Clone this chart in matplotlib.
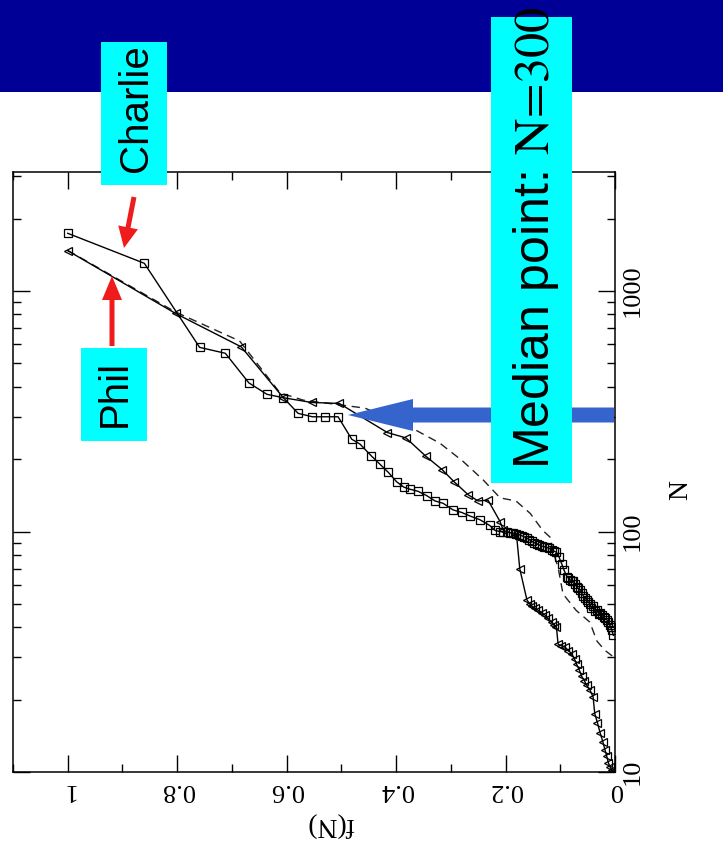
import matplotlib
matplotlib.use("Agg")
import matplotlib.pyplot as plt
from matplotlib.patches import Rectangle, FancyArrow
from matplotlib.ticker import LogLocator, NullFormatter, MultipleLocator

plt.rcParams['mathtext.fontset'] = 'stix'

charlie_f = [1.0, 0.860, 0.759, 0.712, 0.669, 0.636, 0.606, 0.579, 0.553, 0.530, 0.506,
             0.481, 0.466, 0.445, 0.430, 0.414, 0.399, 0.386, 0.375, 0.360, 0.344, 0.329,
             0.314, 0.296, 0.280, 0.265, 0.247, 0.229, 0.219, 0.210, 0.204, 0.198, 0.192,
             0.186, 0.180, 0.175, 0.170, 0.166, 0.161, 0.157, 0.152, 0.148, 0.143, 0.139,
             0.134, 0.130, 0.125, 0.120, 0.116, 0.112, 0.107, 0.102, 0.097, 0.093, 0.088,
             0.085, 0.082, 0.079, 0.076, 0.073, 0.070, 0.067, 0.064, 0.061, 0.058, 0.055,
             0.052, 0.049, 0.046, 0.043, 0.040, 0.037, 0.033, 0.030, 0.027, 0.024, 0.021,
             0.018, 0.015, 0.012, 0.010, 0.008, 0.006, 0.003]
charlie_N = [1738, 1304, 583, 551, 415, 372, 360, 310, 300, 300, 300,
             242, 231, 206, 191, 176, 161, 153, 150, 147, 141, 134,
             131, 123, 120, 116, 112, 106, 101, 100, 99.7, 99.5, 99,
             98.5, 98, 97, 96, 95, 94, 92.5, 91, 90, 89, 88,
             87, 86.5, 86, 85, 84, 83, 82, 78, 73, 69, 65,
             64, 63, 62.5, 62, 60.5, 59, 58, 57, 55.5, 54, 53,
             52, 51, 50, 48, 49, 46.5, 47, 45.5, 46, 45, 44,
             43.5, 43, 42, 41, 40, 39, 37]

phil_f = [1.0, 0.803, 0.683, 0.606, 0.554, 0.504, 0.416, 0.382, 0.346, 0.316, 0.294,
          0.268, 0.250, 0.232, 0.210, 0.204, 0.180, 0.174, 0.161, 0.156, 0.152, 0.146,
          0.140, 0.134, 0.128, 0.122, 0.116, 0.111, 0.107, 0.104, 0.098, 0.091, 0.085,
          0.079, 0.074, 0.070, 0.065, 0.061, 0.056, 0.052, 0.046, 0.040, 0.037, 0.032,
          0.027, 0.022, 0.018, 0.015, 0.012, 0.009, 0.006, 0.003]
phil_N = [1472, 807, 586, 360, 344, 341, 258, 245, 206, 181, 161,
          142, 134, 135, 110, 101, 97, 70, 52, 50, 49, 48,
          47, 46, 45, 43.5, 42, 41, 40, 34, 33.5, 33, 32,
          31, 29.5, 28, 26.5, 25, 24, 23, 22, 20.5, 17.5, 16,
          14.5, 13.3, 12.3, 11.6, 10.9, 10.5, 10.2, 10.05]

model_f = [1.0, 0.803, 0.686, 0.612, 0.570, 0.457, 0.364, 0.320, 0.278, 0.241, 0.210,
           0.181, 0.155, 0.132, 0.117, 0.115, 0.104, 0.095, 0.071, 0.046, 0.033, 0.018, 0.002]
model_N = [1475, 818, 620, 377, 352, 326, 264, 233, 196, 164, 138,
           134, 119, 101, 94, 85, 71, 55, 47, 42, 35, 32, 30]

f_ticks = [0, 0.2, 0.4, 0.6, 0.8, 1.0]
f_labels = ['0', '0.2', '0.4', '0.6', '0.8', '1']
n_ticks = [10, 100, 1000]
n_labels = ['10', '100', '1000']

W, H = 723, 850
fig = plt.figure(figsize=(W / 100, H / 100), dpi=100)
fig.patch.set_facecolor('white')

# plot axes (the original figure is turned 90 degrees on the slide)
ax = fig.add_axes([13 / W, 1 - 772 / H, 602 / W, 600 / H])
ax.plot(model_f, model_N, color='#222222', lw=1.0, ls=(0, (6, 4)))
ax.plot(phil_f, phil_N, color='black', lw=1.0, marker='<', ms=6,
        mfc='none', mec='black', mew=0.9)
ax.plot(charlie_f, charlie_N, color='black', lw=1.0, marker='s', ms=5.5,
        mfc='none', mec='black', mew=0.9)

ax.set_xlim(1.1, 0)
ax.set_yscale('log')
ax.set_ylim(10, 3126)

ax.set_xticks(f_ticks)
ax.set_xticklabels(f_labels, rotation=180, family='Liberation Serif', fontsize=19)
ax.xaxis.set_minor_locator(MultipleLocator(0.1))
ax.set_yticks(n_ticks)
ax.set_yticklabels(n_labels, rotation=90, va='center', family='Liberation Serif', fontsize=19)
ax.yaxis.set_minor_locator(LogLocator(subs=range(2, 10)))
ax.yaxis.set_minor_formatter(NullFormatter())

ax.tick_params(which='both', direction='in', top=True, bottom=True, left=True, right=True,
               labelleft=False, labelright=True, labelbottom=True, labeltop=False, width=1)
ax.tick_params(which='major', length=12, pad=5)
ax.tick_params(which='minor', length=6)
for s in ax.spines.values():
    s.set_linewidth(1.1)

ax.set_xlabel('f(N)', rotation=180, family='Liberation Serif', fontsize=20, va='center', ha='center')
ax.xaxis.set_label_coords((330 - 13) / 602, -0.087)
ax.yaxis.set_label_position('right')
ax.set_ylabel('N', rotation=90, family='Liberation Serif', fontsize=20, va='center', ha='center')
ax.yaxis.set_label_coords((681 - 13) / 602, (772 - 490) / 600)

# slide overlay in pixel units
ov = fig.add_axes([0, 0, 1, 1])
ov.set_xlim(0, W)
ov.set_ylim(H, 0)
ov.axis('off')

ov.add_patch(Rectangle((0, 0), W, 92, color='#000096', lw=0))

ov.add_patch(FancyArrow(614, 415, 348 - 614, 0, width=15, head_width=32, head_length=65,
                        length_includes_head=True, color='#3464CC', lw=0))

cyan = '#00FFFF'
ov.add_patch(Rectangle((101, 42), 66, 143, color=cyan, lw=0))
ov.add_patch(Rectangle((81, 348), 66, 93, color=cyan, lw=0))
ov.add_patch(Rectangle((491, 17), 81, 466, color=cyan, lw=0))

ov.text(136, 108, 'Charlie', rotation=90, ha='center', va='center',
        family='Liberation Sans', fontsize=29)
ov.text(115, 393, 'Phil', rotation=90, ha='center', va='center',
        family='Liberation Sans', fontsize=29)
ov.text(536, 469, r'Median point: $\mathrm{N\!=\!300}$', rotation=90, ha='center', va='bottom',
        family='Liberation Sans', fontsize=36)

red = '#EE1C1C'
ov.add_patch(FancyArrow(134, 197, 124 - 134, 248 - 197, width=5, head_width=20, head_length=21,
                        length_includes_head=True, color=red, lw=0))
ov.add_patch(FancyArrow(112, 346, 0, 276 - 346, width=5, head_width=20, head_length=24,
                        length_includes_head=True, color=red, lw=0))

fig.savefig('out.png', dpi=100)
